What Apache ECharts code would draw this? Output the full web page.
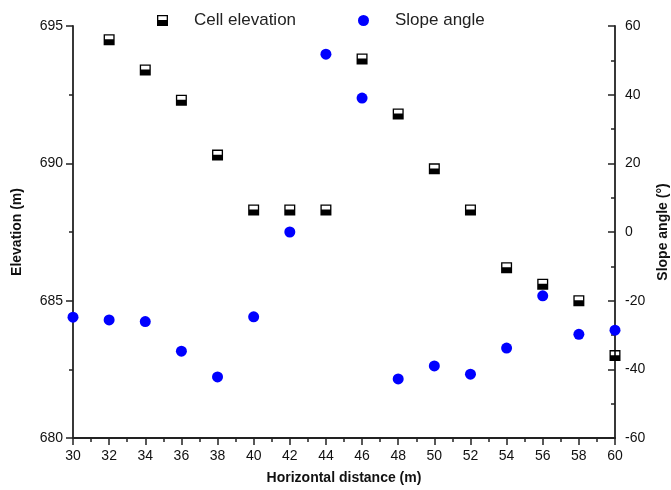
<!DOCTYPE html>
<html>
<head>
<meta charset="utf-8">
<title>Elevation and slope angle</title>
<script src="https://cdn.jsdelivr.net/npm/echarts@6/dist/echarts.min.js"></script>
</head>
<body style="margin:0">
<div id="box" style="width: 671px;height: 490px;"></div>
<script>
// 数据
var distance = [30, 32, 34, 36, 38, 40, 42, 44, 46, 48, 50, 52, 54, 56, 58, 60]
var elevX = [32, 34, 36, 38, 40, 42, 44, 46, 48, 50, 52, 54, 56, 58, 60]
var elevation = [694.5, 693.4, 692.3, 690.3, 688.3, 688.3, 688.3, 693.8, 691.8, 689.8, 688.3, 686.2, 685.6, 685.0, 683.0]
var slopeAngle = [-24.8, -25.6, -26.1, -34.7, -42.2, -24.7, 0, 51.8, 39.0, -42.8, -39.0, -41.4, -33.8, -18.6, -29.8, -28.6]

var elevData = []
for (var i = 0; i < elevX.length; i++) {
  elevData.push([elevX[i], elevation[i]])
}
var slopeData = []
for (var j = 0; j < distance.length; j++) {
  slopeData.push([distance[j], slopeAngle[j]])
}

// 半填充方块
var halfSquare = 'path://M0,0 L10,0 L10,10 L0,10 Z M1.2,1.2 L1.2,4.6 L8.8,4.6 L8.8,1.2 Z'
var font = "'Liberation Sans', Arial, sans-serif"
var axisLine = { show: true, onZero: false, lineStyle: { color: '#222', width: 1.8 } }

var mCharts = echarts.init(document.querySelector('#box'))
var option = {
  animation: false,
  textStyle: { fontFamily: font },
  grid: { left: 73, right: 56, top: 26, bottom: 52, containLabel: false, outerBoundsMode: 'none' },
  legend: [
    {
      data: ['Cell elevation'], left: 152, top: 7,
      itemWidth: 11, itemHeight: 11,
      textStyle: { fontSize: 17, color: '#222', fontFamily: font, padding: [0, 0, 0, 21] }
    },
    {
      data: ['Slope angle'], left: 353, top: 7,
      itemWidth: 11, itemHeight: 11,
      textStyle: { fontSize: 17, color: '#222', fontFamily: font, padding: [0, 0, 0, 21] }
    }
  ],
  xAxis: {
    type: 'value', min: 30, max: 60, interval: 2,
    name: 'Horizontal distance (m)', nameLocation: 'middle', nameGap: 33,
    nameTextStyle: { fontSize: 14, fontWeight: 'bold', color: '#111' },
    axisLine: axisLine,
    axisTick: { show: true, length: 7, lineStyle: { color: '#222', width: 1.5 } },
    minorTick: { show: true, splitNumber: 2, length: 4, lineStyle: { color: '#222', width: 1.5 } },
    axisLabel: { fontSize: 14, color: '#111', margin: 11 },
    splitLine: { show: false }
  },
  yAxis: [
    {
      type: 'value', min: 680, max: 695, interval: 5, position: 'left',
      name: 'Elevation (m)', nameLocation: 'middle', nameGap: 49, nameRotate: 90,
      nameTextStyle: { fontSize: 14, fontWeight: 'bold', color: '#111' },
      axisLine: axisLine,
      axisTick: { show: true, length: 7, lineStyle: { color: '#222', width: 1.5 } },
      minorTick: { show: true, splitNumber: 2, length: 4, lineStyle: { color: '#222', width: 1.5 } },
      axisLabel: { fontSize: 14, color: '#111', margin: 10 },
      splitLine: { show: false }
    },
    {
      type: 'value', min: -60, max: 60, interval: 20, position: 'right',
      name: 'Slope angle (°)', nameLocation: 'middle', nameGap: 39, nameRotate: 90,
      nameTextStyle: { fontSize: 14, fontWeight: 'bold', color: '#111' },
      axisLine: axisLine,
      axisTick: { show: true, inside: true, length: 7, lineStyle: { color: '#222', width: 1.5 } },
      minorTick: { show: true, inside: true, splitNumber: 2, length: 4, lineStyle: { color: '#222', width: 1.5 } },
      axisLabel: { fontSize: 14, color: '#111', margin: 10 },
      splitLine: { show: false }
    }
  ],
  series: [
    {
      name: 'Cell elevation', type: 'scatter', yAxisIndex: 0,
      symbol: halfSquare, symbolSize: 11,
      itemStyle: { color: '#000', opacity: 1 },
      data: elevData
    },
    {
      name: 'Slope angle', type: 'scatter', yAxisIndex: 1,
      symbol: 'circle', symbolSize: 11,
      itemStyle: { color: '#0000ff', opacity: 1 },
      data: slopeData
    }
  ]
}
mCharts.setOption(option)
</script>
</body>
</html>
